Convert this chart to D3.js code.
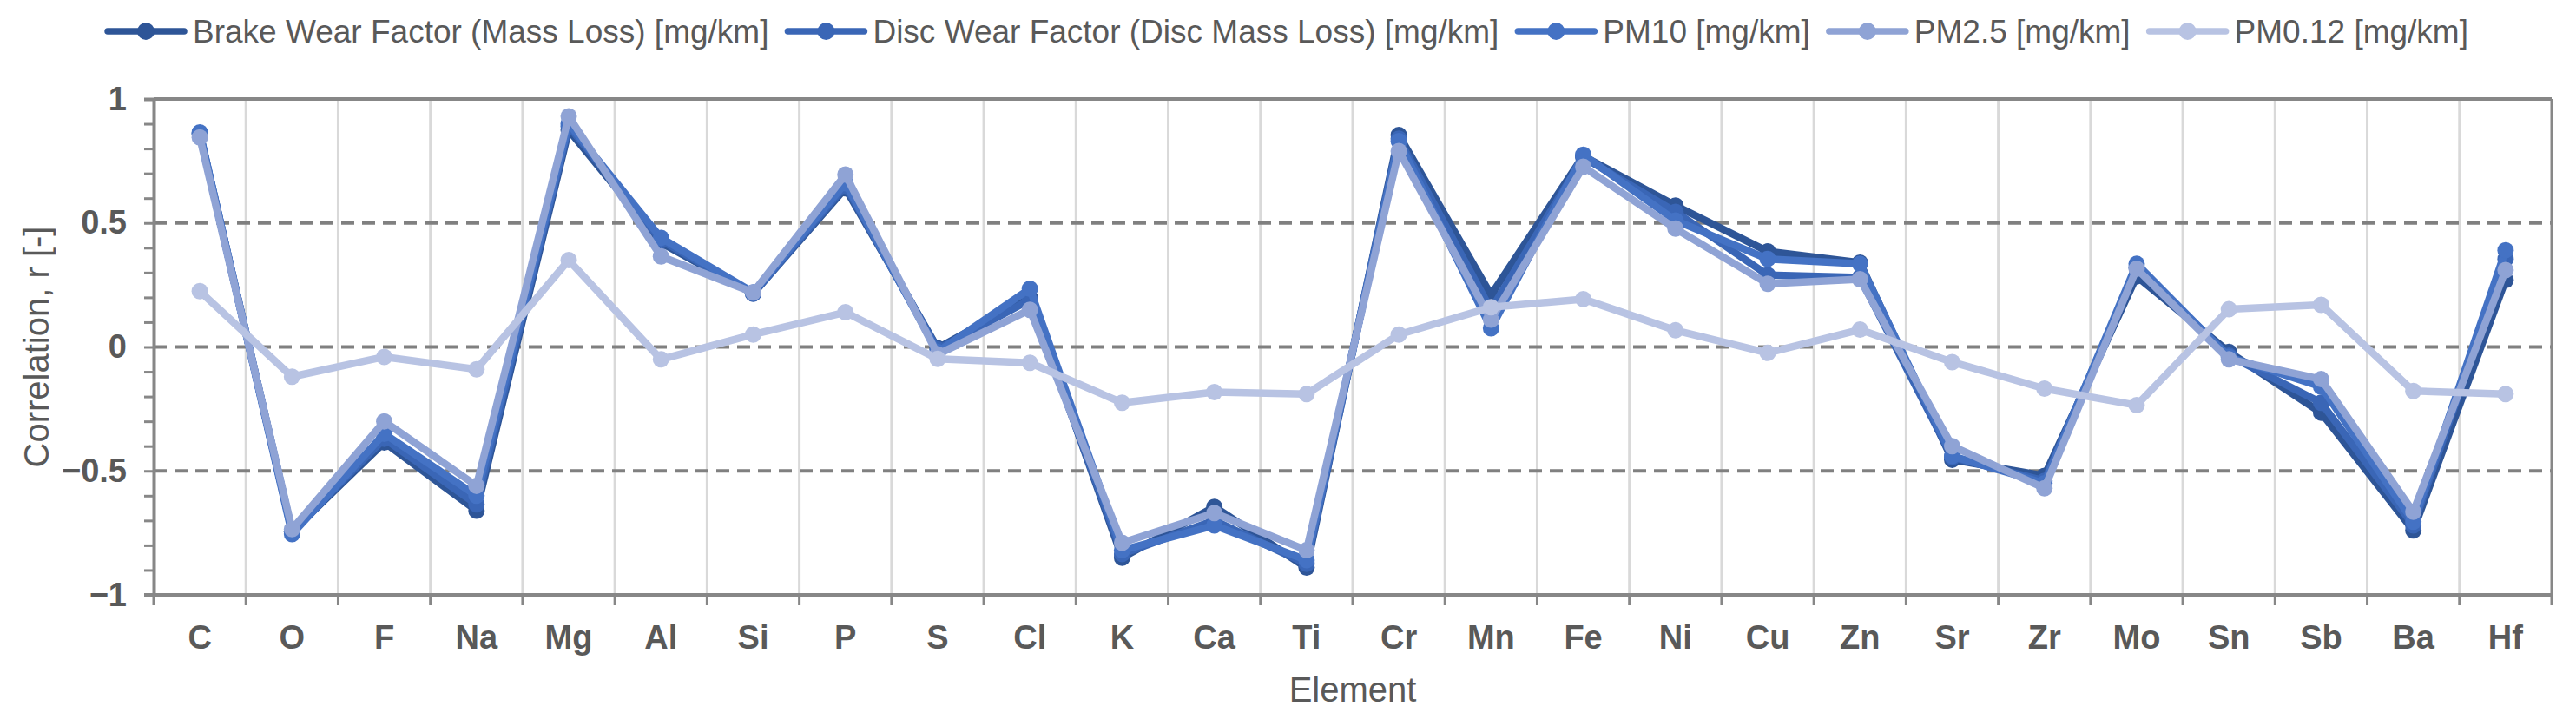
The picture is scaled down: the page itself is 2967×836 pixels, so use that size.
<!DOCTYPE html>
<html>
<head>
<meta charset="utf-8">
<script src="https://cdn.jsdelivr.net/npm/d3@7"></script>
<style>
  html, body { margin: 0; padding: 0; background: #ffffff; }
  svg { display: block; font-family: "Liberation Sans", Arial, Helvetica, sans-serif; }
</style>
</head>
<body>
<svg id="chart" width="2967" height="836"></svg>
<script>
const elements = ["C","O","F","Na","Mg","Al","Si","P","S","Cl","K","Ca","Ti","Cr","Mn","Fe","Ni","Cu","Zn","Sr","Zr","Mo","Sn","Sb","Ba","Hf"];

const brakeWear = [0.86,-0.745,-0.385,-0.66,0.875,0.42,0.215,0.64,-0.005,0.20,-0.85,-0.645,-0.89,0.855,0.21,0.77,0.57,0.385,0.34,-0.455,-0.52,0.285,-0.02,-0.265,-0.74,0.27];
const discWear  = [0.86,-0.745,-0.37,-0.635,0.89,0.43,0.215,0.65,-0.01,0.19,-0.835,-0.70,-0.875,0.84,0.15,0.765,0.545,0.29,0.28,-0.445,-0.54,0.32,-0.035,-0.225,-0.72,0.355];
const pm10      = [0.865,-0.755,-0.35,-0.60,0.90,0.44,0.22,0.66,-0.02,0.235,-0.82,-0.72,-0.86,0.83,0.075,0.775,0.51,0.355,0.335,-0.44,-0.55,0.335,-0.04,-0.16,-0.705,0.39];
const pm25      = [0.845,-0.735,-0.30,-0.56,0.93,0.365,0.22,0.695,-0.03,0.15,-0.79,-0.67,-0.82,0.79,0.11,0.727,0.477,0.255,0.273,-0.40,-0.57,0.315,-0.05,-0.13,-0.665,0.31];
const pm012     = [0.225,-0.12,-0.04,-0.09,0.35,-0.05,0.05,0.14,-0.048,-0.064,-0.225,-0.182,-0.19,0.05,0.16,0.193,0.067,-0.024,0.07,-0.061,-0.168,-0.235,0.152,0.17,-0.178,-0.19];

const seriesNames  = ["Brake Wear Factor (Mass Loss) [mg/km]","Disc Wear Factor (Disc Mass Loss) [mg/km]","PM10 [mg/km]","PM2.5 [mg/km]","PM0.12 [mg/km]"];
const seriesValues = [brakeWear, discWear, pm10, pm25, pm012];
const seriesColors = ["#2e5597","#3a66b6","#4472c4","#8fa3d5","#b8c3e3"];

const yTickValues = [-1, -0.5, 0, 0.5, 1];
const yTickLabels = ["\u22121", "\u22120.5", "0", "0.5", "1"];
const yMinorTicks = d3.range(-10, 11).map(i => i / 10);
const yDashed = [-0.5, 0, 0.5];

const xAxisTitle = "Element";
const yAxisTitle = "Correlation, r [-]";

const W = 2967, H = 836;
const M = { left: 177, right: 2939, top: 114, bottom: 685 };
const textColor = "#595959";
const axisColor = "#878787";

const svg = d3.select("#chart");
svg.append("rect").attr("width", W).attr("height", H).attr("fill", "#fff");

const x = d3.scaleBand().domain(elements).range([M.left, M.right]).padding(0);
const y = d3.scaleLinear().domain([-1, 1]).range([M.bottom, M.top]);

// vertical gridlines at band boundaries
const boundaries = elements.map(e => x(e)).concat([M.right]);
svg.append("g").selectAll("line").data(boundaries.slice(1, -1)).join("line")
  .attr("x1", d => d).attr("x2", d => d)
  .attr("y1", y(1)).attr("y2", y(-1))
  .attr("stroke", "#d9d9d9").attr("stroke-width", 3);

// dashed horizontal lines
svg.append("g").selectAll("line").data(yDashed).join("line")
  .attr("x1", M.left).attr("x2", M.right)
  .attr("y1", d => y(d)).attr("y2", d => y(d))
  .attr("stroke", "#808080").attr("stroke-width", 4)
  .attr("stroke-dasharray", "15,9");

// top & right border
svg.append("line").attr("x1", M.left).attr("x2", M.right).attr("y1", y(1)).attr("y2", y(1))
  .attr("stroke", axisColor).attr("stroke-width", 4);
svg.append("line").attr("x1", M.right).attr("x2", M.right).attr("y1", y(1)).attr("y2", y(-1))
  .attr("stroke", axisColor).attr("stroke-width", 3);

// Y axis
const yAxis = d3.axisLeft(y).tickValues(yMinorTicks).tickSize(11).tickPadding(20)
  .tickFormat(d => {
    const i = yTickValues.findIndex(v => Math.abs(v - d) < 1e-9);
    return i >= 0 ? yTickLabels[i] : "";
  });
const gy = svg.append("g").attr("transform", `translate(${M.left},0)`).call(yAxis);
gy.select(".domain").attr("stroke", axisColor).attr("stroke-width", 4);
gy.selectAll(".tick line").attr("stroke", axisColor).attr("stroke-width", 3);
gy.selectAll(".tick text").attr("fill", textColor).attr("font-size", 38).attr("font-weight", "bold")
  .attr("font-family", "'Liberation Sans', Arial, sans-serif");

// X axis labels
const xAxis = d3.axisBottom(x).tickSize(0).tickPadding(35);
const gx = svg.append("g").attr("transform", `translate(0,${M.bottom})`).call(xAxis);
gx.select(".domain").remove();
gx.selectAll(".tick text").attr("fill", textColor).attr("font-size", 38).attr("font-weight", "bold")
  .attr("font-family", "'Liberation Sans', Arial, sans-serif");

// x ticks at boundaries
svg.append("g").selectAll("line").data(boundaries).join("line")
  .attr("x1", d => d).attr("x2", d => d)
  .attr("y1", M.bottom).attr("y2", M.bottom + 12)
  .attr("stroke", axisColor).attr("stroke-width", 3);
svg.append("line").attr("x1", M.left - 11).attr("x2", M.right).attr("y1", y(-1)).attr("y2", y(-1))
  .attr("stroke", axisColor).attr("stroke-width", 4);

// axis titles
svg.append("text").attr("x", (M.left + M.right) / 2).attr("y", 808)
  .attr("text-anchor", "middle").attr("font-size", 40).attr("fill", textColor).text(xAxisTitle);
svg.append("text").attr("transform", `translate(56,${(M.top + M.bottom) / 2}) rotate(-90)`)
  .attr("text-anchor", "middle").attr("font-size", 40).attr("fill", textColor).text(yAxisTitle);

// series
const line = d3.line().x((d, i) => x(elements[i]) + x.bandwidth() / 2).y(d => y(d));
seriesValues.forEach((vals, si) => {
  const g = svg.append("g");
  g.append("path").datum(vals).attr("d", line)
    .attr("fill", "none").attr("stroke", seriesColors[si]).attr("stroke-width", 8.5)
    .attr("stroke-linejoin", "round").attr("stroke-linecap", "round");
  g.selectAll("circle").data(vals).join("circle")
    .attr("cx", (d, i) => x(elements[i]) + x.bandwidth() / 2)
    .attr("cy", d => y(d)).attr("r", 9.5).attr("fill", seriesColors[si]);
});

// legend
const legend = svg.append("g");
const symW = 88, gapT = 10, gapItem = 22, legY = 36;
let cursor = 0;
const items = seriesNames.map((name, i) => {
  const g = legend.append("g");
  g.append("line").attr("x1", 0).attr("x2", symW).attr("y1", legY).attr("y2", legY)
    .attr("stroke", seriesColors[i]).attr("stroke-width", 7.5).attr("stroke-linecap", "round");
  g.append("circle").attr("cx", symW / 2).attr("cy", legY).attr("r", 10).attr("fill", seriesColors[i]);
  const t = g.append("text").attr("x", symW + gapT).attr("y", legY).attr("dy", "0.35em")
    .attr("font-size", 37).attr("fill", textColor).text(name);
  const w = symW + gapT + t.node().getComputedTextLength();
  g.attr("transform", `translate(${cursor},0)`);
  cursor += w + gapItem;
  return g;
});
const totalW = cursor - gapItem;
legend.attr("transform", `translate(${(W - totalW) / 2},0)`);
</script>
</body>
</html>
